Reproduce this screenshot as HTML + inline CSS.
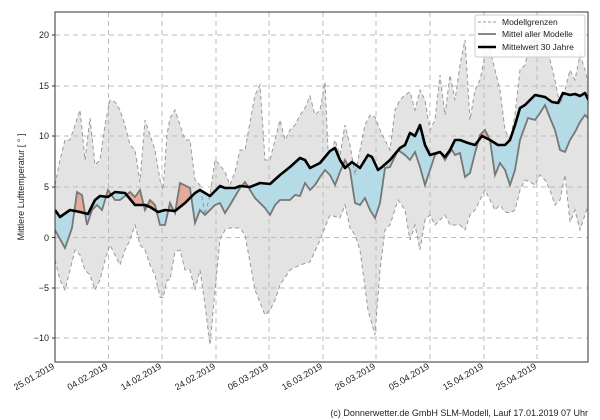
<!DOCTYPE html>
<html><head><meta charset="utf-8"><style>body{margin:0;background:#fff}svg{display:block;font-family:"Liberation Sans","DejaVu Sans",sans-serif}</style></head><body>
<svg width="600" height="420" viewBox="0 0 600 420">
<defs>
<clipPath id="plot"><rect x="55" y="12" width="533" height="350"/></clipPath>
<clipPath id="aboveLow"><polygon points="55,12 55,260 60,280 65,290 70,270 75,250 80,255 85,270 90,275 95,290 100,280 105,260 110,245 115,255 120,265 125,250 130,240 135,225 140,245 145,250 150,265 155,275 160,297 163,298 167,280 170,280 175,252 180,250 185,270 190,270 195,290 200,270 205,305 210,345 215,290 220,240 225,230 230,228 240,228 245,235 255,290 265,315 270,310 275,300 280,285 290,270 300,265 310,262 320,240 330,215 340,218 345,205 350,228 355,235 360,250 368,310 375,335 380,270 385,230 390,225 398,200 405,210 410,240 415,225 420,250 425,220 430,215 435,225 440,220 445,215 450,225 460,225 465,230 470,215 475,210 480,200 485,190 490,200 495,210 500,205 505,212 510,213 515,210 520,190 525,180 530,182 535,185 540,175 545,180 550,190 555,205 560,200 565,175 570,222 575,210 580,230 585,215 590,200 590,12"/></clipPath>
<clipPath id="belowBlack"><polygon points="55,362 55,210 60,217 70,210 80,212 88,214 95,200 100,196 108,197 115,192 125,193 135,205 145,205 150,207 158,212 165,210 175,211 185,203 195,193 200,190 210,196 220,186 225,188 235,188 240,186 250,187 260,183 270,184 280,175 290,167 300,158 305,160 310,168 320,163 330,151 335,148 340,160 345,168 352,162 360,168 368,155 372,157 378,170 382,167 390,160 400,148 405,145 410,133 415,136 420,125 425,145 430,155 440,152 445,157 450,150 455,140 460,140 468,143 475,145 482,136 490,140 498,145 505,145 510,140 515,125 520,108 525,105 535,95 545,97 552,102 558,103 563,93 570,95 575,94 580,96 585,93 590,103 590,362"/></clipPath>
<clipPath id="aboveBlack"><polygon points="55,12 55,210 60,217 70,210 80,212 88,214 95,200 100,196 108,197 115,192 125,193 135,205 145,205 150,207 158,212 165,210 175,211 185,203 195,193 200,190 210,196 220,186 225,188 235,188 240,186 250,187 260,183 270,184 280,175 290,167 300,158 305,160 310,168 320,163 330,151 335,148 340,160 345,168 352,162 360,168 368,155 372,157 378,170 382,167 390,160 400,148 405,145 410,133 415,136 420,125 425,145 430,155 440,152 445,157 450,150 455,140 460,140 468,143 475,145 482,136 490,140 498,145 505,145 510,140 515,125 520,108 525,105 535,95 545,97 552,102 558,103 563,93 570,95 575,94 580,96 585,93 590,103 590,12"/></clipPath>
</defs>
<g clip-path="url(#plot)">
<g clip-path="url(#aboveLow)">
<polygon fill="#e3e3e3" points="55,362 55,185 60,160 65,140 70,140 75,125 80,110 85,160 90,118 95,165 100,160 105,125 110,100 115,102 120,110 125,125 130,145 135,150 140,182 145,120 150,135 155,150 160,180 163,190 167,135 170,118 175,110 180,125 185,140 190,140 195,180 200,185 205,215 210,195 215,160 220,165 225,172 230,185 235,172 240,150 245,150 255,95 260,85 265,160 270,160 275,140 280,120 285,140 290,130 295,125 300,115 305,108 310,96 315,115 320,110 325,82 328,150 332,150 335,140 340,155 345,125 350,145 355,175 360,150 365,125 370,115 375,117 380,130 385,140 390,150 395,110 400,100 405,95 410,92 415,110 420,90 425,100 430,130 435,120 440,75 445,115 450,75 455,100 460,65 465,40 470,120 475,90 480,80 485,55 490,50 495,70 500,90 505,130 510,140 515,115 520,70 525,65 530,45 535,40 540,25 545,30 550,60 555,80 560,105 565,90 570,70 575,80 580,55 585,70 590,90 590,362"/>
</g>
<g stroke="#bbb" stroke-dasharray="5,4" stroke-width="1" fill="none">
<line x1="55" y1="35" x2="588" y2="35"/><line x1="55" y1="86" x2="588" y2="86"/><line x1="55" y1="136" x2="588" y2="136"/><line x1="55" y1="187" x2="588" y2="187"/><line x1="55" y1="237.5" x2="588" y2="237.5"/><line x1="55" y1="288" x2="588" y2="288"/><line x1="55" y1="338" x2="588" y2="338"/>
<line x1="108.5" y1="12" x2="108.5" y2="362"/><line x1="162" y1="12" x2="162" y2="362"/><line x1="216" y1="12" x2="216" y2="362"/><line x1="269" y1="12" x2="269" y2="362"/><line x1="323" y1="12" x2="323" y2="362"/><line x1="376" y1="12" x2="376" y2="362"/><line x1="430" y1="12" x2="430" y2="362"/><line x1="484" y1="12" x2="484" y2="362"/><line x1="537" y1="12" x2="537" y2="362"/>
</g>
<g clip-path="url(#belowBlack)"><polygon fill="#b5dbe7" points="55,12 55,230 65,248 72,228 77,192 82,195 87,225 92,210 97,205 102,210 108,190 115,200 120,200 130,192 135,197 140,190 145,210 150,200 155,205 160,225 165,225 170,203 175,213 180,183 190,188 195,223 200,210 205,215 215,205 220,203 225,213 230,205 240,188 245,182 255,198 265,208 270,215 275,205 280,200 290,200 295,195 300,196 305,183 310,190 315,185 320,177 325,170 330,175 335,185 340,172 345,160 350,170 355,203 360,205 365,198 370,210 375,218 380,203 385,168 390,167 398,150 405,155 410,160 415,152 420,167 425,185 430,170 435,155 440,152 445,160 448,155 452,150 455,155 460,153 465,177 470,173 475,153 480,135 485,130 490,140 495,175 500,163 505,170 510,185 515,170 520,140 528,118 535,120 540,113 545,105 550,118 555,130 560,150 565,152 570,140 575,132 580,122 585,115 590,120 590,12"/></g>
<g clip-path="url(#aboveBlack)"><polygon fill="#e3ab9c" points="55,362 55,230 65,248 72,228 77,192 82,195 87,225 92,210 97,205 102,210 108,190 115,200 120,200 130,192 135,197 140,190 145,210 150,200 155,205 160,225 165,225 170,203 175,213 180,183 190,188 195,223 200,210 205,215 215,205 220,203 225,213 230,205 240,188 245,182 255,198 265,208 270,215 275,205 280,200 290,200 295,195 300,196 305,183 310,190 315,185 320,177 325,170 330,175 335,185 340,172 345,160 350,170 355,203 360,205 365,198 370,210 375,218 380,203 385,168 390,167 398,150 405,155 410,160 415,152 420,167 425,185 430,170 435,155 440,152 445,160 448,155 452,150 455,155 460,153 465,177 470,173 475,153 480,135 485,130 490,140 495,175 500,163 505,170 510,185 515,170 520,140 528,118 535,120 540,113 545,105 550,118 555,130 560,150 565,152 570,140 575,132 580,122 585,115 590,120 590,362"/></g>
<polyline fill="none" stroke="#999" stroke-width="1" stroke-dasharray="4,3" points="55,185 60,160 65,140 70,140 75,125 80,110 85,160 90,118 95,165 100,160 105,125 110,100 115,102 120,110 125,125 130,145 135,150 140,182 145,120 150,135 155,150 160,180 163,190 167,135 170,118 175,110 180,125 185,140 190,140 195,180 200,185 205,215 210,195 215,160 220,165 225,172 230,185 235,172 240,150 245,150 255,95 260,85 265,160 270,160 275,140 280,120 285,140 290,130 295,125 300,115 305,108 310,96 315,115 320,110 325,82 328,150 332,150 335,140 340,155 345,125 350,145 355,175 360,150 365,125 370,115 375,117 380,130 385,140 390,150 395,110 400,100 405,95 410,92 415,110 420,90 425,100 430,130 435,120 440,75 445,115 450,75 455,100 460,65 465,40 470,120 475,90 480,80 485,55 490,50 495,70 500,90 505,130 510,140 515,115 520,70 525,65 530,45 535,40 540,25 545,30 550,60 555,80 560,105 565,90 570,70 575,80 580,55 585,70 590,90"/>
<polyline fill="none" stroke="#999" stroke-width="1" stroke-dasharray="4,3" points="55,260 60,280 65,290 70,270 75,250 80,255 85,270 90,275 95,290 100,280 105,260 110,245 115,255 120,265 125,250 130,240 135,225 140,245 145,250 150,265 155,275 160,297 163,298 167,280 170,280 175,252 180,250 185,270 190,270 195,290 200,270 205,305 210,345 215,290 220,240 225,230 230,228 240,228 245,235 255,290 265,315 270,310 275,300 280,285 290,270 300,265 310,262 320,240 330,215 340,218 345,205 350,228 355,235 360,250 368,310 375,335 380,270 385,230 390,225 398,200 405,210 410,240 415,225 420,250 425,220 430,215 435,225 440,220 445,215 450,225 460,225 465,230 470,215 475,210 480,200 485,190 490,200 495,210 500,205 505,212 510,213 515,210 520,190 525,180 530,182 535,185 540,175 545,180 550,190 555,205 560,200 565,175 570,222 575,210 580,230 585,215 590,200"/>
<polyline fill="none" stroke="#777" stroke-width="1.8" points="55,230 65,248 72,228 77,192 82,195 87,225 92,210 97,205 102,210 108,190 115,200 120,200 130,192 135,197 140,190 145,210 150,200 155,205 160,225 165,225 170,203 175,213 180,183 190,188 195,223 200,210 205,215 215,205 220,203 225,213 230,205 240,188 245,182 255,198 265,208 270,215 275,205 280,200 290,200 295,195 300,196 305,183 310,190 315,185 320,177 325,170 330,175 335,185 340,172 345,160 350,170 355,203 360,205 365,198 370,210 375,218 380,203 385,168 390,167 398,150 405,155 410,160 415,152 420,167 425,185 430,170 435,155 440,152 445,160 448,155 452,150 455,155 460,153 465,177 470,173 475,153 480,135 485,130 490,140 495,175 500,163 505,170 510,185 515,170 520,140 528,118 535,120 540,113 545,105 550,118 555,130 560,150 565,152 570,140 575,132 580,122 585,115 590,120"/>
<polyline fill="none" stroke="#000" stroke-width="2.6" stroke-linejoin="round" points="55,210 60,217 70,210 80,212 88,214 95,200 100,196 108,197 115,192 125,193 135,205 145,205 150,207 158,212 165,210 175,211 185,203 195,193 200,190 210,196 220,186 225,188 235,188 240,186 250,187 260,183 270,184 280,175 290,167 300,158 305,160 310,168 320,163 330,151 335,148 340,160 345,168 352,162 360,168 368,155 372,157 378,170 382,167 390,160 400,148 405,145 410,133 415,136 420,125 425,145 430,155 440,152 445,157 450,150 455,140 460,140 468,143 475,145 482,136 490,140 498,145 505,145 510,140 515,125 520,108 525,105 535,95 545,97 552,102 558,103 563,93 570,95 575,94 580,96 585,93 590,103"/>
</g>
<rect x="55" y="12" width="533" height="350" fill="none" stroke="#333" stroke-width="1"/>
<g font-size="9" fill="#222" text-anchor="end">
<text x="49" y="38">20</text><text x="49" y="89">15</text><text x="49" y="139">10</text><text x="49" y="190">5</text><text x="49" y="241">0</text><text x="49" y="291">−5</text><text x="49" y="341">−10</text>
</g>
<g stroke="#333"><line x1="52" y1="35" x2="55" y2="35"/><line x1="52" y1="86" x2="55" y2="86"/><line x1="52" y1="136" x2="55" y2="136"/><line x1="52" y1="187" x2="55" y2="187"/><line x1="52" y1="237.5" x2="55" y2="237.5"/><line x1="52" y1="288" x2="55" y2="288"/><line x1="52" y1="338" x2="55" y2="338"/></g>
<text transform="translate(24,187) rotate(-90)" font-size="9" fill="#222" text-anchor="middle">Mittlere Lufttemperatur [ ° ]</text>
<g font-size="9" fill="#222" text-anchor="end">
<text transform="translate(55,368) rotate(-30)">25.01.2019</text>
<text transform="translate(108.5,368) rotate(-30)">04.02.2019</text>
<text transform="translate(162,368) rotate(-30)">14.02.2019</text>
<text transform="translate(216,368) rotate(-30)">24.02.2019</text>
<text transform="translate(269,368) rotate(-30)">06.03.2019</text>
<text transform="translate(323,368) rotate(-30)">16.03.2019</text>
<text transform="translate(376,368) rotate(-30)">26.03.2019</text>
<text transform="translate(430,368) rotate(-30)">05.04.2019</text>
<text transform="translate(484,368) rotate(-30)">15.04.2019</text>
<text transform="translate(537,368) rotate(-30)">25.04.2019</text>
</g>
<g>
<rect x="475" y="15" width="110" height="42" rx="2" fill="#fff" fill-opacity="0.85" stroke="#ccc"/>
<line x1="478" y1="22" x2="496" y2="22" stroke="#999" stroke-dasharray="3,2"/>
<line x1="478" y1="34" x2="496" y2="34" stroke="#777" stroke-width="1.8"/>
<line x1="478" y1="47" x2="496" y2="47" stroke="#000" stroke-width="2.6"/>
<g font-size="8.5" fill="#222"><text x="502" y="25">Modellgrenzen</text><text x="502" y="37">Mittel aller Modelle</text><text x="502" y="50">Mittelwert 30 Jahre</text></g>
</g>
<text x="588" y="416" font-size="9" fill="#222" text-anchor="end">(c) Donnerwetter.de GmbH SLM-Modell, Lauf 17.01.2019 07 Uhr</text>
</svg>
</body></html>
